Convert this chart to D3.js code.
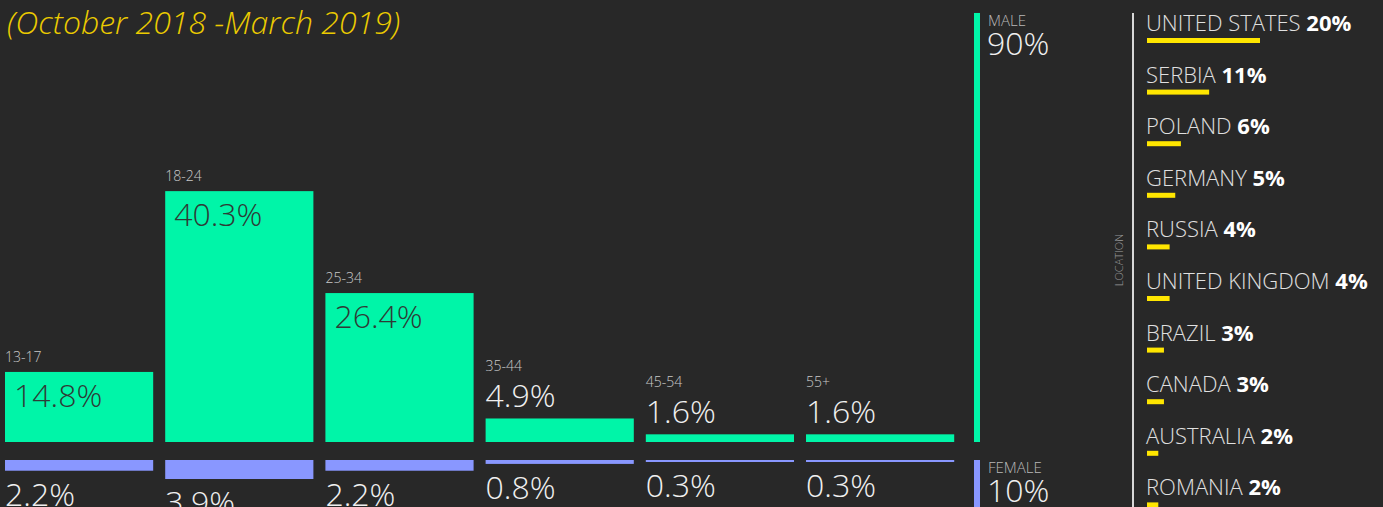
<!DOCTYPE html>
<html>
<head>
<meta charset="utf-8">
<script src="https://cdn.jsdelivr.net/npm/d3@7"></script>
<style>
  body { margin: 0; background: #282828; }
  svg { display: block; font-family: "Open Sans", sans-serif; }
</style>
</head>
<body>
<script>
// age groups, male / female share (%)
var ages = ["13-17", "18-24", "25-34", "35-44", "45-54", "55+"];
var maleVals = [14.8, 40.3, 26.4, 4.9, 1.6, 1.6];
var femaleVals = [2.2, 3.9, 2.2, 0.8, 0.3, 0.3];

var genders = ["MALE", "FEMALE"];
var genderVals = [90, 10];

var countries = ["UNITED STATES", "SERBIA", "POLAND", "GERMANY", "RUSSIA",
                 "UNITED KINGDOM", "BRAZIL", "CANADA", "AUSTRALIA", "ROMANIA"];
var countryVals = [20, 11, 6, 5, 4, 4, 3, 3, 2, 2];

var title = "(October 2018 -March 2019)";

var width = 1383, height = 507;
var green = "#00f5a8", blue = "#8997ff", yellow = "#ffe600";

var svg = d3.select("body").append("svg")
    .attr("width", width)
    .attr("height", height);

svg.append("rect").attr("width", width).attr("height", height).attr("fill", "#282828");

svg.append("text")
    .attr("x", 7).attr("y", 34)
    .attr("fill", "#eccb00")
    .attr("font-size", 32)
    .attr("font-style", "italic")
    .attr("font-weight", 300)
    .text(title);

//age bars
var maleBase = 442, femaleBase = 460;
var xScale = d3.scaleBand().domain(ages).range([5, 954.2]).paddingInner(0.075);
var yMale = d3.scaleLinear().domain([0, 5, 15, 26, 41]).range([0, 24, 71, 146, 256]);
var yFemale = d3.scaleLinear().domain([0, 4]).range([0, 19.5]);

var ageData = ages.map(function(a, i) { return {age: a, m: maleVals[i], f: femaleVals[i]}; });

var groups = svg.selectAll("g.age")
    .data(ageData)
    .enter()
    .append("g")
    .attr("class", "age")
    .attr("transform", function(d) { return "translate(" + xScale(d.age) + ",0)"; });

groups.append("rect")
    .attr("y", function(d) { return maleBase - yMale(d.m); })
    .attr("width", xScale.bandwidth())
    .attr("height", function(d) { return yMale(d.m); })
    .attr("fill", green);

groups.append("rect")
    .attr("y", femaleBase)
    .attr("width", xScale.bandwidth())
    .attr("height", function(d) { return Math.max(2, yFemale(d.f)); })
    .attr("fill", blue);

function inside(d) { return yMale(d.m) > 50; }

groups.append("text")
    .attr("x", 0)
    .attr("y", function(d) { return maleBase - yMale(d.m) - (inside(d) ? 10 : 47); })
    .attr("fill", "#c8c8c8")
    .attr("font-size", 14)
    .attr("font-weight", 300)
    .text(function(d) { return d.age; });

groups.append("text")
    .attr("x", function(d) { return inside(d) ? 9 : 0; })
    .attr("y", function(d) { return maleBase - yMale(d.m) + (inside(d) ? 35 : -11); })
    .attr("fill", function(d) { return inside(d) ? "#2e3b36" : "#f0f0f0"; })
    .attr("font-size", 32)
    .attr("font-weight", 300)
    .text(function(d) { return d.m + "%"; });

groups.append("text")
    .attr("x", 0)
    .attr("y", function(d) { return femaleBase + Math.max(2, yFemale(d.f)) + 35; })
    .attr("fill", "#f0f0f0")
    .attr("font-size", 32)
    .attr("font-weight", 300)
    .text(function(d) { return d.f.toFixed(1) + "%"; });

//gender
var gScale = d3.scaleLinear().domain([0, 100]).range([0, 476.7]);
var gx = 974;
svg.append("rect")
    .attr("x", gx).attr("y", maleBase - gScale(genderVals[0]))
    .attr("width", 6).attr("height", gScale(genderVals[0]))
    .attr("fill", green);
svg.append("rect")
    .attr("x", gx).attr("y", femaleBase)
    .attr("width", 6).attr("height", gScale(genderVals[1]))
    .attr("fill", blue);

var gTop = [maleBase - gScale(genderVals[0]), femaleBase];
genders.forEach(function(g, i) {
  svg.append("text")
      .attr("x", 988).attr("y", gTop[i] + 13)
      .attr("fill", "#b8b8b8")
      .attr("font-size", 15)
      .attr("font-weight", 300)
      .text(g);
  svg.append("text")
      .attr("x", 987).attr("y", gTop[i] + 42)
      .attr("fill", "#f0f0f0")
      .attr("font-size", 32)
      .attr("font-weight", 300)
      .text(genderVals[i] + "%");
});

//location
svg.append("line")
    .attr("x1", 1133).attr("x2", 1133)
    .attr("y1", 13).attr("y2", height)
    .attr("stroke", "#d8d8d8")
    .attr("stroke-width", 2);

svg.append("text")
    .attr("transform", "translate(1123,260) rotate(-90)")
    .attr("text-anchor", "middle")
    .attr("fill", "#9a9a9a")
    .attr("font-size", 11)
    .attr("font-weight", 300)
    .text("LOCATION");

var cScale = d3.scaleLinear().domain([0, 20]).range([0, 113]);
var rowScale = d3.scalePoint().domain(countries).range([38, 502.4]);

var rows = svg.selectAll("g.country")
    .data(countries)
    .enter()
    .append("g")
    .attr("class", "country")
    .attr("transform", function(d) { return "translate(1147," + rowScale(d) + ")"; });

rows.append("rect")
    .attr("y", 0)
    .attr("width", function(d, i) { return cScale(countryVals[i]); })
    .attr("height", 5)
    .attr("fill", yellow);

var lbl = rows.append("text")
    .attr("x", -1)
    .attr("y", -7)
    .attr("fill", "#e0e0e0")
    .attr("font-size", 22)
    .attr("font-weight", 300);
lbl.append("tspan").text(function(d) { return d + " "; });
lbl.append("tspan")
    .attr("font-weight", 700)
    .attr("fill", "#ffffff")
    .text(function(d, i) { return countryVals[i] + "%"; });
</script>
</body>
</html>
